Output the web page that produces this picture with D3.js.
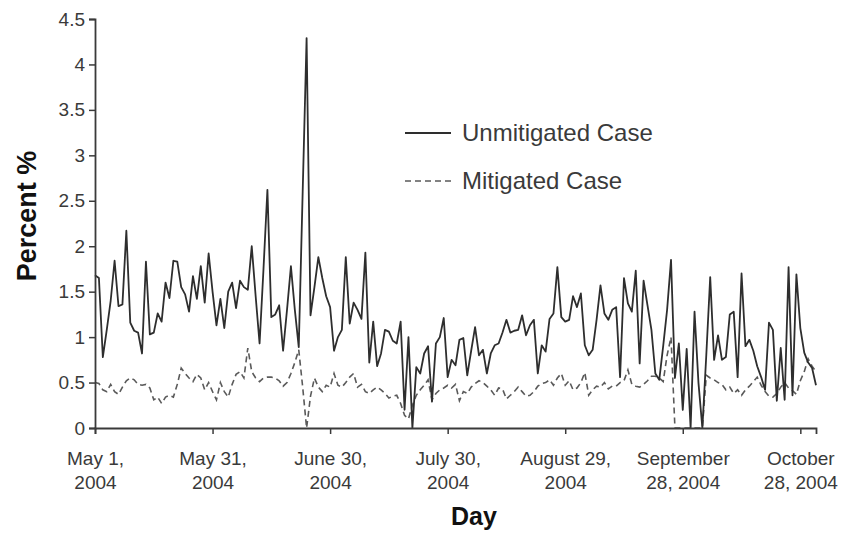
<!DOCTYPE html>
<html>
<head>
<meta charset="utf-8">
<script src="https://cdn.jsdelivr.net/npm/d3@7"></script>
<style>
  body { margin: 0; background: #fff; }
  svg { font-family: "Liberation Sans", Arial, sans-serif; }
</style>
</head>
<body>
<script>
// daily values, May 1 2004 onwards
var startDate = new Date(Date.UTC(2004, 4, 1));

var unmitigated = [
  1.68, 1.65, 0.78, 1.08, 1.40, 1.84, 1.34, 1.36, 2.17, 1.16,
  1.07, 1.05, 0.82, 1.83, 1.03, 1.05, 1.26, 1.17, 1.60, 1.43,
  1.84, 1.83, 1.55, 1.47, 1.28, 1.67, 1.42, 1.78, 1.38, 1.92,
  1.50, 1.13, 1.42, 1.10, 1.50, 1.60, 1.32, 1.62, 1.55, 1.52,
  2.00, 1.45, 0.93, 1.75, 2.62, 1.22, 1.25, 1.35, 0.85, 1.30,
  1.78, 1.30, 0.89, 2.60, 4.29, 1.24, 1.55, 1.88, 1.65, 1.45,
  1.33, 0.85, 1.00, 1.08, 1.88, 1.15, 1.38, 1.30, 1.20, 1.93,
  0.72, 1.17, 0.68, 0.82, 1.08, 1.06, 0.96, 0.93, 1.17, 0.20,
  1.00, 0.00, 0.67, 0.60, 0.82, 0.90, 0.29, 0.93, 1.00, 1.21,
  0.56, 0.75, 0.69, 0.97, 0.99, 0.58, 0.85, 1.11, 0.80, 0.86,
  0.60, 0.82, 0.91, 0.93, 1.05, 1.19, 1.05, 1.07, 1.08, 1.24,
  1.02, 1.13, 1.19, 0.60, 0.91, 0.84, 1.20, 1.26, 1.77, 1.22,
  1.17, 1.19, 1.45, 1.33, 1.48, 0.91, 0.80, 0.86, 1.19, 1.57,
  1.26, 1.19, 1.30, 1.33, 0.56, 1.65, 1.37, 1.28, 1.73, 0.71,
  1.62, 1.35, 1.08, 0.60, 0.53, 0.90, 1.30, 1.85, 0.55, 0.93,
  0.20, 0.87, 0.00, 1.28, 0.50, 0.00, 0.80, 1.66, 0.75, 1.02,
  0.75, 0.78, 1.25, 1.28, 0.56, 1.70, 0.90, 0.97, 0.85, 0.68,
  0.56, 0.42, 1.16, 1.08, 0.30, 0.88, 0.31, 1.77, 0.36, 1.69,
  1.10, 0.83, 0.72, 0.66, 0.47
];

var mitigated = [
  0.50, 0.49, 0.42, 0.40, 0.48, 0.40, 0.37, 0.45, 0.52, 0.55,
  0.53, 0.48, 0.47, 0.48, 0.44, 0.31, 0.34, 0.27, 0.34, 0.36,
  0.34, 0.48, 0.66, 0.60, 0.55, 0.51, 0.59, 0.55, 0.42, 0.50,
  0.40, 0.31, 0.50, 0.40, 0.34, 0.48, 0.59, 0.62, 0.55, 0.88,
  0.62, 0.55, 0.51, 0.55, 0.56, 0.56, 0.55, 0.52, 0.46, 0.50,
  0.60, 0.72, 0.86, 0.45, 0.00, 0.35, 0.55, 0.45, 0.40, 0.47,
  0.45, 0.60, 0.47, 0.45, 0.50, 0.56, 0.60, 0.45, 0.48, 0.40,
  0.38, 0.42, 0.45, 0.42, 0.38, 0.33, 0.35, 0.36, 0.27, 0.14,
  0.10, 0.25, 0.36, 0.42, 0.47, 0.53, 0.31, 0.38, 0.42, 0.44,
  0.47, 0.44, 0.48, 0.30, 0.40, 0.38, 0.45, 0.49, 0.52, 0.50,
  0.46, 0.42, 0.36, 0.44, 0.43, 0.32, 0.36, 0.40, 0.45, 0.40,
  0.35, 0.36, 0.40, 0.46, 0.49, 0.50, 0.53, 0.47, 0.55, 0.60,
  0.47, 0.52, 0.42, 0.44, 0.50, 0.61, 0.36, 0.42, 0.46, 0.45,
  0.50, 0.43, 0.46, 0.46, 0.50, 0.52, 0.64, 0.48, 0.46, 0.45,
  0.48, 0.52, 0.57, 0.57, 0.55, 0.51, 0.80, 1.00, 0.00, 0.00,
  0.00, 0.00, 0.00, 0.00, 0.00, 0.00, 0.58, 0.55, 0.53, 0.50,
  0.48, 0.42, 0.45, 0.38, 0.42, 0.36, 0.42, 0.46, 0.51, 0.56,
  0.47, 0.40, 0.35, 0.34, 0.38, 0.45, 0.50, 0.44, 0.41, 0.37,
  0.52, 0.62, 0.76, 0.68, 0.62
];

var yTicks = [0, 0.5, 1, 1.5, 2, 2.5, 3, 3.5, 4, 4.5];
var xTickDays = [0, 30, 60, 90, 120, 150, 180];
var xTickLabels = [
  ["May 1,", "2004"],
  ["May 31,", "2004"],
  ["June 30,", "2004"],
  ["July 30,", "2004"],
  ["August 29,", "2004"],
  ["September", "28, 2004"],
  ["October", "28, 2004"]
];
var seriesNames = ["Unmitigated Case", "Mitigated Case"];

var width = 850, height = 534;
var margin = {top: 19, right: 34, bottom: 106, left: 95};

var svg = d3.select("body").append("svg")
  .attr("width", width)
  .attr("height", height);

var dayOf = function(i) { return d3.utcDay.offset(startDate, i); };

var x = d3.scaleUtc()
  .domain([startDate, dayOf(unmitigated.length - 1)])
  .range([margin.left, width - margin.right]);

var y = d3.scaleLinear()
  .domain([0, 4.5])
  .range([height - margin.bottom, margin.top]);

var axisColor = "#3a3a3a";
var textColor = "#3a3a3a";

// lines
var line = d3.line()
  .x(function(d, i) { return x(dayOf(i)); })
  .y(function(d) { return y(d); });

svg.append("path")
  .datum(mitigated)
  .attr("d", line)
  .attr("fill", "none")
  .attr("stroke", "#5a5a5a")
  .attr("stroke-width", 1.6)
  .attr("stroke-dasharray", "6,4");

svg.append("path")
  .datum(unmitigated)
  .attr("d", line)
  .attr("fill", "none")
  .attr("stroke", "#2e2e2e")
  .attr("stroke-width", 1.8)
  .attr("stroke-linejoin", "round");

// y axis
var yAxis = svg.append("g")
  .attr("transform", "translate(" + margin.left + ",0)")
  .call(d3.axisLeft(y).tickValues(yTicks).tickSize(6).tickPadding(4)
    .tickFormat(function(d) { return String(d); }));

// x axis
var xAxis = svg.append("g")
  .attr("transform", "translate(0," + (height - margin.bottom) + ")")
  .call(d3.axisBottom(x).tickValues(xTickDays.map(dayOf)).tickSize(6).tickFormat(""));

[yAxis, xAxis].forEach(function(g) {
  g.select(".domain").attr("stroke", axisColor).attr("stroke-width", 1.8);
  g.selectAll(".tick line").attr("stroke", axisColor).attr("stroke-width", 1.5);
});
yAxis.selectAll(".tick text")
  .attr("fill", textColor)
  .style("font-size", "19px");

// two-line date labels
xAxis.selectAll(".tick")
  .append("text")
  .attr("fill", textColor)
  .attr("text-anchor", "middle")
  .style("font-size", "19px")
  .each(function(d, i) {
    var t = d3.select(this);
    xTickLabels[i].forEach(function(s, k) {
      t.append("tspan").attr("x", 0).attr("y", 37 + k * 24).text(s);
    });
  });

// axis titles
svg.append("text")
  .attr("transform", "translate(36,216) rotate(-90)")
  .attr("text-anchor", "middle")
  .attr("fill", "#111")
  .style("font-size", "27px")
  .style("font-weight", "bold")
  .text("Percent %");

svg.append("text")
  .attr("x", 474)
  .attr("y", 525)
  .attr("text-anchor", "middle")
  .attr("fill", "#111")
  .style("font-size", "25px")
  .style("font-weight", "bold")
  .text("Day");

// legend
var legend = svg.append("g").attr("transform", "translate(405,133)");
seriesNames.forEach(function(name, i) {
  var row = legend.append("g").attr("transform", "translate(0," + (i * 48) + ")");
  row.append("line")
    .attr("x1", 0).attr("x2", i === 0 ? 46 : 50)
    .attr("y1", 0).attr("y2", 0)
    .attr("stroke", i === 0 ? "#2e2e2e" : "#5a5a5a")
    .attr("stroke-width", i === 0 ? 1.8 : 1.6)
    .attr("stroke-dasharray", i === 0 ? null : "6,4");
  row.append("text")
    .attr("x", 57)
    .attr("y", 8)
    .attr("fill", textColor)
    .style("font-size", "24px")
    .text(name);
});
</script>
</body>
</html>
